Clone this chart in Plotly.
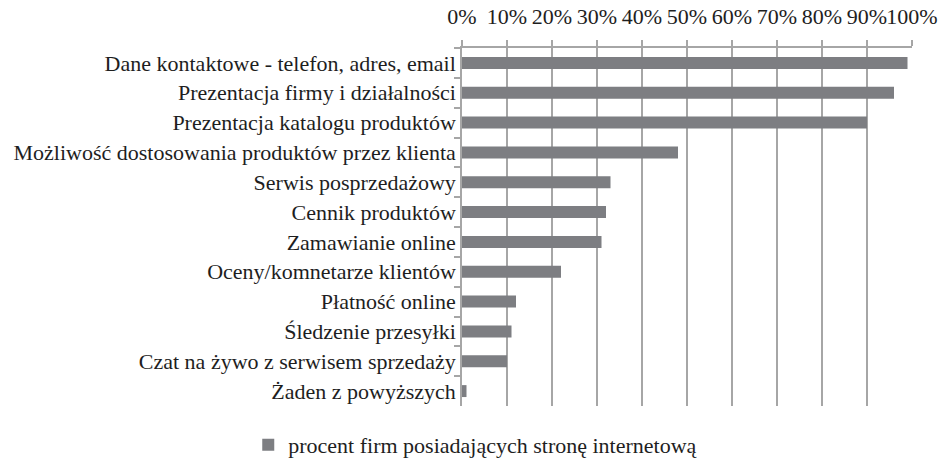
import plotly.graph_objects as go

categories = [
    "Dane kontaktowe - telefon, adres, email",
    "Prezentacja firmy i działalności",
    "Prezentacja katalogu produktów",
    "Możliwość dostosowania produktów przez klienta",
    "Serwis posprzedażowy",
    "Cennik produktów",
    "Zamawianie online",
    "Oceny/komnetarze klientów",
    "Płatność online",
    "Śledzenie przesyłki",
    "Czat na żywo z serwisem sprzedaży",
    "Żaden z powyższych",
]
values = [0.99, 0.96, 0.90, 0.48, 0.33, 0.32, 0.31, 0.22, 0.12, 0.11, 0.10, 0.01]
series_name = "procent firm posiadających stronę internetową"
tick_vals = [i / 10 for i in range(11)]
tick_text = [f"{i * 10}%" for i in range(11)]

font = dict(family="Liberation Serif, Times New Roman, serif", size=22, color="#1e1e1e")
grid = "#a6a6a6"

fig = go.Figure(
    go.Bar(
        x=values,
        y=categories,
        orientation="h",
        name=series_name,
        marker=dict(color="#7d7e82", line=dict(width=0)),
        showlegend=True,
    )
)

fig.update_layout(
    width=938,
    height=462,
    margin=dict(l=462, r=26, t=48, b=56, autoexpand=False),
    paper_bgcolor="white",
    plot_bgcolor="white",
    font=font,
    bargap=0.6,
    showlegend=True,
    legend=dict(
        orientation="h",
        x=-0.475,
        xanchor="left",
        y=-0.109,
        yanchor="middle",
        font=font,
        itemwidth=30,
    ),
)

fig.update_xaxes(
    side="top",
    range=[0, 1.0],
    tickmode="array",
    tickvals=tick_vals,
    ticktext=tick_text,
    tickangle=0,
    automargin=False,
    showgrid=True,
    gridcolor=grid,
    gridwidth=1.5,
    ticks="outside",
    ticklen=6,
    tickcolor=grid,
    tickwidth=1.5,
    showline=True,
    linecolor=grid,
    linewidth=1.5,
    zeroline=False,
    ticklabelstandoff=7,
    tickfont=font,
)

fig.update_yaxes(
    autorange="reversed",
    tickmode="linear",
    tick0=0,
    dtick=1,
    automargin=False,
    showline=True,
    linecolor=grid,
    linewidth=1.5,
    ticks="outside",
    tickson="boundaries",
    ticklen=6,
    tickcolor=grid,
    tickwidth=1.5,
    showgrid=False,
    tickfont=font,
)

fig.write_html(
    "out.html",
    config={"displayModeBar": False},
    post_script="document.body.style.margin='0';document.body.style.overflow='hidden';",
)
